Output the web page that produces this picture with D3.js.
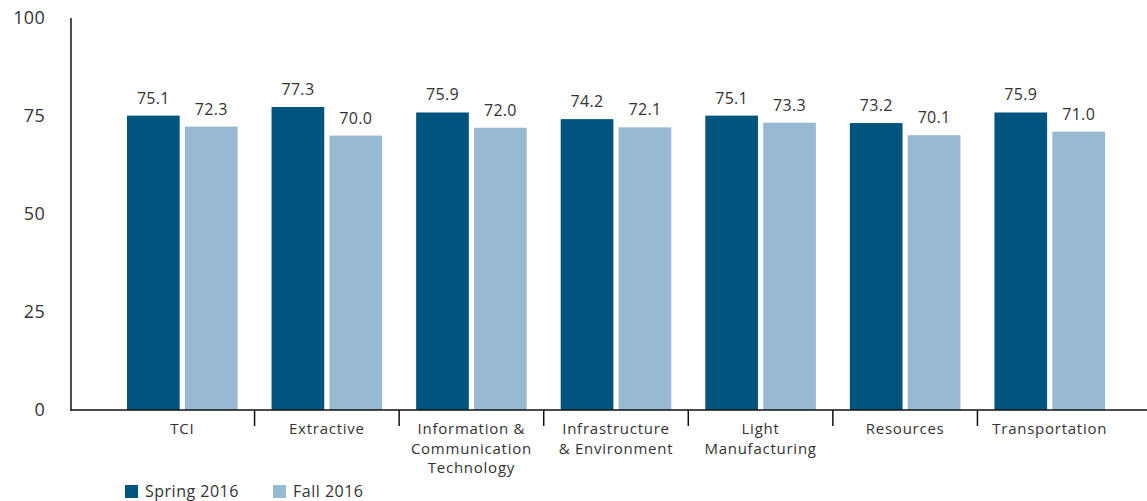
<!DOCTYPE html>
<html>
<head>
<meta charset="utf-8">
<script src="https://cdn.jsdelivr.net/npm/d3@7"></script>
<style>
  html, body { margin: 0; padding: 0; background: #fff; }
  svg { display: block; font-family: "Open Sans", "DejaVu Sans", sans-serif; }
</style>
</head>
<body>
<svg id="chart" width="1147" height="501"></svg>
<script>
// Sector names (multi-line labels split on "\n")
const categories = [
  "TCI",
  "Extractive",
  "Information &\nCommunication\nTechnology",
  "Infrastructure\n& Environment",
  "Light\nManufacturing",
  "Resources",
  "Transportation"
];
const seriesNames = ["Spring 2016", "Fall 2016"];
const spring2016 = [75.1, 77.3, 75.9, 74.2, 75.1, 73.2, 75.9];
const fall2016 = [72.3, 70.0, 72.0, 72.1, 73.3, 70.1, 71.0];
const yTicks = [0, 25, 50, 75, 100];

const colors = ["#00557f", "#98b9d2"];
const textColor = "#333333";

const svg = d3.select("#chart");
const axisX = 71, baseY = 410, topY = 18;

const x = d3.scaleBand()
  .domain(categories)
  .range([110, 1122])
  .paddingInner(0)
  .paddingOuter(0);

const inner = d3.scaleBand()
  .domain(seriesNames)
  .range([17, x.bandwidth() - 17])
  .paddingInner(0.09);

const y = d3.scaleLinear().domain([0, 100]).range([baseY, topY]);

// Y-axis tick labels
svg.append("g")
  .selectAll("text")
  .data(yTicks)
  .join("text")
  .attr("x", 45)
  .attr("y", d => y(d))
  .attr("dy", "0.35em")
  .attr("text-anchor", "end")
  .attr("font-size", 18)
  .attr("letter-spacing", 0.3)
  .attr("fill", textColor)
  .text(d => d);

// Bars
const rows = categories.map((c, i) => ({ cat: c, values: [spring2016[i], fall2016[i]] }));
const groups = svg.append("g")
  .selectAll("g")
  .data(rows)
  .join("g")
  .attr("transform", d => `translate(${x(d.cat)},0)`);

groups.selectAll("rect")
  .data(d => d.values.map((v, j) => ({ name: seriesNames[j], v, j })))
  .join("rect")
  .attr("x", d => inner(d.name))
  .attr("y", d => y(d.v))
  .attr("width", inner.bandwidth())
  .attr("height", d => baseY - y(d.v))
  .attr("fill", d => colors[d.j]);

groups.selectAll("text.val")
  .data(d => d.values.map((v, j) => ({ name: seriesNames[j], v, j })))
  .join("text")
  .attr("class", "val")
  .attr("x", d => inner(d.name) + inner.bandwidth() / 2)
  .attr("y", d => y(d.v) - 12)
  .attr("text-anchor", "middle")
  .attr("font-size", 16)
  .attr("letter-spacing", 0.3)
  .attr("fill", textColor)
  .text(d => d.v.toFixed(1));

// Axis lines
svg.append("line")
  .attr("x1", axisX).attr("x2", axisX)
  .attr("y1", topY).attr("y2", baseY + 1)
  .attr("stroke", "#111").attr("stroke-width", 1.5);
svg.append("line")
  .attr("x1", axisX).attr("x2", 1147)
  .attr("y1", baseY).attr("y2", baseY)
  .attr("stroke", "#111").attr("stroke-width", 1.5);

// Separators between categories
svg.append("g")
  .selectAll("line")
  .data(categories.slice(1))
  .join("line")
  .attr("x1", d => x(d)).attr("x2", d => x(d))
  .attr("y1", baseY).attr("y2", baseY + 16)
  .attr("stroke", "#111").attr("stroke-width", 1.5);

// Category labels, one text element per line
const labelLines = categories.flatMap(c =>
  c.split("\n").map((line, k) => ({ cat: c, line, k })));
svg.append("g")
  .selectAll("text")
  .data(labelLines)
  .join("text")
  .attr("x", d => x(d.cat) + x.bandwidth() / 2)
  .attr("y", d => 434 + d.k * 19.5)
  .attr("text-anchor", "middle")
  .attr("font-size", 15)
  .attr("letter-spacing", 0.75)
  .attr("fill", textColor)
  .text(d => d.line);

// Legend
const legend = svg.append("g")
  .selectAll("g")
  .data(seriesNames)
  .join("g")
  .attr("transform", (d, i) => `translate(${125 + i * 148},485)`);
legend.append("rect")
  .attr("width", 13).attr("height", 13)
  .attr("fill", (d, i) => colors[i]);
legend.append("text")
  .attr("x", 20)
  .attr("y", 11.5)
  .attr("font-size", 16)
  .attr("letter-spacing", 0.5)
  .attr("fill", textColor)
  .text(d => d);
</script>
</body>
</html>
